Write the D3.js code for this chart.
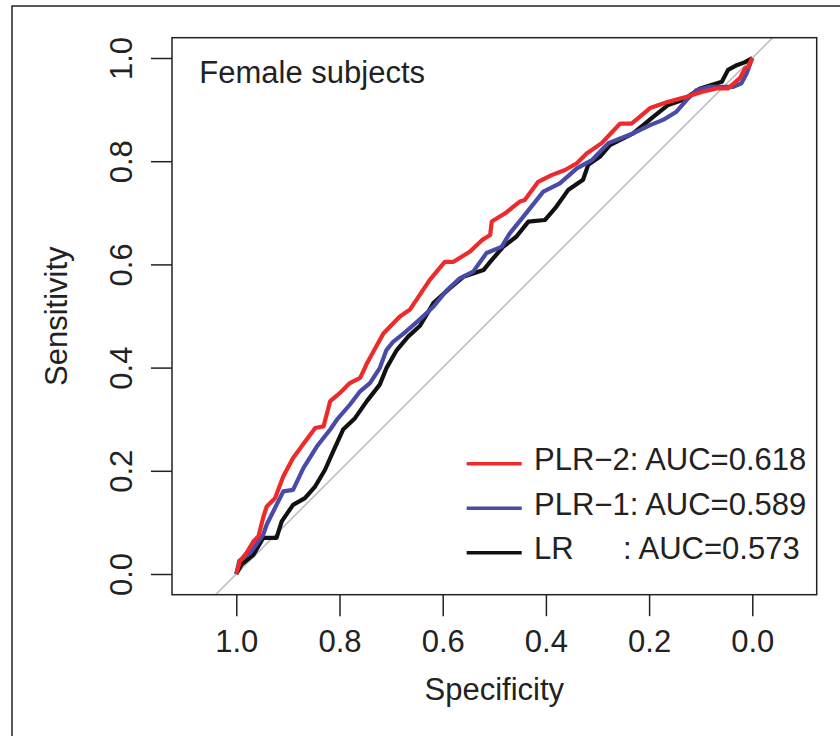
<!DOCTYPE html>
<html>
<head>
<meta charset="utf-8">
<script src="https://cdn.jsdelivr.net/npm/d3@7"></script>
<style>
  body { margin: 0; background: #fff; }
  svg { font-family: "Liberation Sans", Arial, Helvetica, sans-serif; }
</style>
</head>
<body>
<svg id="roc" width="840" height="736"></svg>
<script>
// ROC data (specificity, sensitivity)
var plr2Spec = [1.0, 0.993, 0.980, 0.967, 0.957, 0.948, 0.941, 0.925, 0.909, 0.890, 0.864, 0.847, 0.831, 0.818, 0.799, 0.780, 0.760, 0.751, 0.747, 0.715, 0.683, 0.664, 0.647, 0.625, 0.596, 0.579, 0.547, 0.524, 0.508, 0.505, 0.479, 0.450, 0.441, 0.415, 0.389, 0.363, 0.340, 0.321, 0.292, 0.256, 0.234, 0.198, 0.163, 0.127, 0.095, 0.069, 0.047, 0.024, 0.014, 0.008, 0.0];
var plr2Sens = [0.0, 0.025, 0.041, 0.063, 0.073, 0.109, 0.131, 0.147, 0.189, 0.225, 0.260, 0.283, 0.286, 0.335, 0.351, 0.370, 0.380, 0.399, 0.408, 0.466, 0.499, 0.512, 0.537, 0.570, 0.605, 0.605, 0.625, 0.647, 0.657, 0.683, 0.699, 0.722, 0.725, 0.760, 0.773, 0.783, 0.796, 0.815, 0.835, 0.873, 0.873, 0.903, 0.915, 0.925, 0.935, 0.941, 0.941, 0.961, 0.980, 0.983, 1.0];

var plr1Spec = [1.0, 0.994, 0.973, 0.948, 0.941, 0.922, 0.909, 0.890, 0.870, 0.844, 0.818, 0.805, 0.780, 0.760, 0.741, 0.722, 0.709, 0.696, 0.676, 0.647, 0.618, 0.592, 0.567, 0.541, 0.515, 0.486, 0.470, 0.444, 0.405, 0.373, 0.340, 0.311, 0.279, 0.256, 0.231, 0.198, 0.173, 0.147, 0.127, 0.108, 0.082, 0.037, 0.021, 0.011, 0.0];
var plr1Sens = [0.0, 0.026, 0.041, 0.076, 0.096, 0.134, 0.160, 0.163, 0.205, 0.247, 0.280, 0.299, 0.328, 0.354, 0.370, 0.399, 0.434, 0.450, 0.466, 0.491, 0.518, 0.550, 0.573, 0.586, 0.622, 0.634, 0.660, 0.692, 0.741, 0.757, 0.786, 0.802, 0.835, 0.844, 0.854, 0.870, 0.880, 0.896, 0.919, 0.938, 0.944, 0.944, 0.951, 0.970, 1.0];

var lrSpec = [1.0, 0.990, 0.967, 0.948, 0.922, 0.912, 0.890, 0.867, 0.847, 0.828, 0.812, 0.793, 0.770, 0.747, 0.722, 0.709, 0.689, 0.667, 0.644, 0.618, 0.586, 0.560, 0.521, 0.508, 0.483, 0.457, 0.434, 0.402, 0.382, 0.357, 0.328, 0.318, 0.295, 0.276, 0.231, 0.192, 0.163, 0.134, 0.101, 0.059, 0.047, 0.030, 0.014, 0.0];
var lrSens = [0.0, 0.018, 0.037, 0.070, 0.070, 0.102, 0.134, 0.147, 0.170, 0.202, 0.238, 0.280, 0.302, 0.335, 0.367, 0.399, 0.434, 0.460, 0.481, 0.525, 0.554, 0.576, 0.589, 0.605, 0.634, 0.654, 0.683, 0.686, 0.709, 0.744, 0.764, 0.793, 0.809, 0.831, 0.854, 0.886, 0.909, 0.919, 0.941, 0.954, 0.977, 0.986, 0.992, 1.0];

var tickValues = [0, 0.2, 0.4, 0.6, 0.8, 1.0];
var legendLabels = ["PLR\u22122: AUC=0.618", "PLR\u22121: AUC=0.589", "LR"];
var seriesColors = ["#ee2a2a", "#4a4aa8", "#111111"];

var svg = d3.select("#roc");
var fs = "31px";

// outer frame
svg.append("rect")
    .attr("x", 12).attr("y", 6)
    .attr("width", 860).attr("height", 760)
    .attr("fill", "none")
    .attr("stroke", "#222")
    .attr("stroke-width", 1.5);

// plot box
var box = {left: 172, top: 37.7, right: 816.7, bottom: 594.7};

var x = d3.scaleLinear().domain([1, 0]).range([236.3, 752.3]);
var y = d3.scaleLinear().domain([0, 1]).range([574, 58]);

svg.append("clipPath").attr("id", "clip")
    .append("rect")
    .attr("x", box.left).attr("y", box.top)
    .attr("width", box.right - box.left)
    .attr("height", box.bottom - box.top);

var plot = svg.append("g").attr("clip-path", "url(#clip)");

// chance diagonal
plot.append("line")
    .attr("x1", x(1.2)).attr("y1", y(-0.2))
    .attr("x2", x(-0.2)).attr("y2", y(1.2))
    .attr("stroke", "#bdbdbd")
    .attr("stroke-width", 1.6);

var line = d3.line()
    .x(function (d) { return x(d[0]); })
    .y(function (d) { return y(d[1]); });

var series = [
    d3.zip(lrSpec, lrSens),
    d3.zip(plr1Spec, plr1Sens),
    d3.zip(plr2Spec, plr2Sens)
];
var seriesCol = [seriesColors[2], seriesColors[1], seriesColors[0]];

plot.selectAll("path.roc")
    .data(series)
    .enter()
    .append("path")
    .attr("class", "roc")
    .attr("d", line)
    .attr("fill", "none")
    .attr("stroke", function (d, i) { return seriesCol[i]; })
    .attr("stroke-width", 4.2)
    .attr("stroke-linejoin", "round");

// box
svg.append("rect")
    .attr("x", box.left).attr("y", box.top)
    .attr("width", box.right - box.left)
    .attr("height", box.bottom - box.top)
    .attr("fill", "none")
    .attr("stroke", "#222")
    .attr("stroke-width", 1.5);

// y axis
var yAxis = svg.append("g")
    .attr("transform", "translate(" + box.left + ",0)")
    .call(d3.axisLeft(y).tickValues(tickValues).tickSize(21).tickFormat(d3.format(".1f")));
yAxis.select(".domain").remove();
yAxis.selectAll(".tick line").attr("stroke", "#222").attr("stroke-width", 1.5);
yAxis.selectAll(".tick text")
    .attr("transform", "rotate(-90)")
    .attr("x", 0).attr("y", -40).attr("dy", 0)
    .attr("text-anchor", "middle")
    .attr("fill", "#222")
    .style("font-size", fs);

// x axis
var xAxis = svg.append("g")
    .attr("transform", "translate(0," + box.bottom + ")")
    .call(d3.axisBottom(x).tickValues(tickValues).tickSize(21.5).tickFormat(d3.format(".1f")));
xAxis.select(".domain").remove();
xAxis.selectAll(".tick line").attr("stroke", "#222").attr("stroke-width", 1.5);
xAxis.selectAll(".tick text")
    .attr("y", 57.3).attr("dy", 0)
    .attr("fill", "#222")
    .style("font-size", fs);

svg.selectAll(".tick text").attr("font-family", null);
svg.selectAll(".tick").attr("font-family", null);
yAxis.attr("font-family", null);
xAxis.attr("font-family", null);

// axis titles
svg.append("text")
    .attr("x", (box.left + box.right) / 2)
    .attr("y", 700)
    .attr("text-anchor", "middle")
    .attr("fill", "#222")
    .style("font-size", fs)
    .text("Specificity");

svg.append("text")
    .attr("transform", "translate(67," + (box.top + box.bottom) / 2 + ") rotate(-90)")
    .attr("text-anchor", "middle")
    .attr("fill", "#222")
    .style("font-size", fs)
    .text("Sensitivity");

// panel title
svg.append("text")
    .attr("x", 199.3)
    .attr("y", 82.7)
    .attr("fill", "#222")
    .style("font-size", fs)
    .text("Female subjects");

// legend
var legend = svg.selectAll("g.legend")
    .data(legendLabels)
    .enter()
    .append("g")
    .attr("class", "legend")
    .attr("transform", function (d, i) {
        return "translate(0," + i * 44.5 + ")";
    });

legend.append("line")
    .attr("x1", 466.7).attr("x2", 521.7)
    .attr("y1", 463.7).attr("y2", 463.7)
    .attr("stroke", function (d, i) { return seriesColors[i]; })
    .attr("stroke-width", 3.6);

var legendText = legend.append("text")
    .attr("x", 534)
    .attr("y", 470)
    .attr("fill", "#222")
    .style("font-size", fs)
    .text(function (d) { return d; });

legendText.filter(function (d, i) { return i === 2; })
    .append("tspan")
    .attr("x", 623)
    .text(": AUC=0.573");
</script>
</body>
</html>
